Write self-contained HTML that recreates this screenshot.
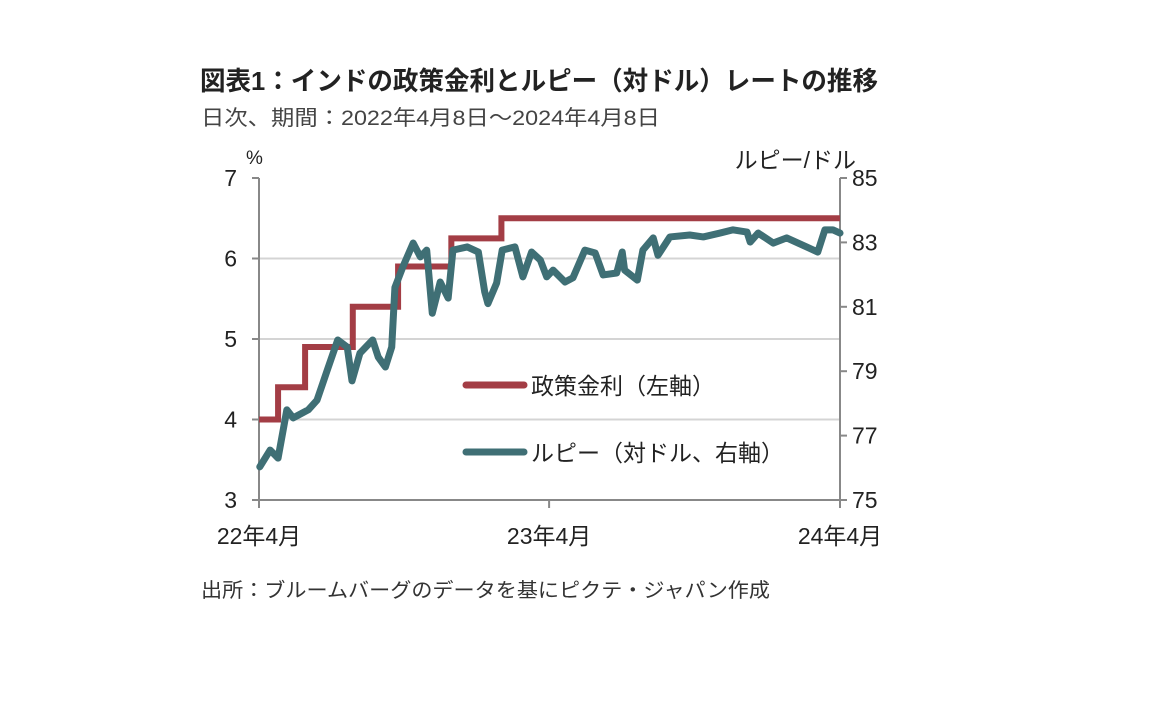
<!DOCTYPE html>
<html><head><meta charset="utf-8"><style>
body{margin:0;width:1152px;height:720px;background:#fff;overflow:hidden;font-family:"Liberation Sans","Noto Sans CJK JP",sans-serif}
svg text{font-family:"Liberation Sans","Noto Sans CJK JP",sans-serif}
</style></head><body>
<svg width="1152" height="720">
<text x="200" y="90" font-size="26" font-weight="bold" fill="#222" textLength="678" lengthAdjust="spacingAndGlyphs">図表1：インドの政策金利とルピー（対ドル）レートの推移</text>
<text x="201" y="125" font-size="21" fill="#444" textLength="459" lengthAdjust="spacingAndGlyphs">日次、期間：2022年4月8日～2024年4月8日</text>
<g id="grid"></g>
<g id="axes"></g>
<g id="series"></g>
<g>
<line x1="466" y1="385" x2="524" y2="385" stroke="#a33d45" stroke-width="7" stroke-linecap="round"/>
<text x="531" y="394" font-size="23" fill="#222">政策金利（左軸）</text>
<line x1="466" y1="452" x2="524" y2="452" stroke="#3f6f75" stroke-width="7" stroke-linecap="round"/>
<text x="531" y="461" font-size="23" fill="#222">ルピー（対ドル、右軸）</text>
</g>
<text x="201" y="597" font-size="20" fill="#333" textLength="569" lengthAdjust="spacingAndGlyphs">出所：ブルームバーグのデータを基にピクテ・ジャパン作成</text>
</svg>
<script>
const xTickLabels=["22年4月","23年4月","24年4月"];
const xTickDays=[0,365,731];
const leftTicks=[3,4,5,6,7];
const rightTicks=[75,77,79,81,83,85];
const rateDays=[0,24,58,118,175,242,305,731];
const rateValues=[4.0,4.4,4.9,5.4,5.9,6.25,6.5,6.5];
const rupeeDays=[1,14,24,35,43,62,73,86,99,111,117,127,143,150,159,167,171,181,194,203,211,218,228,238,244,262,276,284,288,299,306,322,332,343,354,362,370,385,395,410,423,433,450,457,460,476,483,496,502,517,542,559,580,596,614,618,628,647,664,689,703,712,722,731];
const rupeeValues=[76.03,76.55,76.3,77.8,77.55,77.8,78.1,79.04,79.97,79.75,78.7,79.56,79.97,79.44,79.13,79.75,81.6,82.24,82.98,82.55,82.76,80.8,81.77,81.27,82.76,82.86,82.7,81.46,81.1,81.74,82.76,82.86,81.93,82.7,82.45,81.93,82.14,81.77,81.9,82.76,82.67,81.99,82.05,82.7,82.14,81.83,82.76,83.14,82.6,83.17,83.23,83.17,83.29,83.39,83.32,83.01,83.29,82.98,83.14,82.86,82.7,83.39,83.39,83.29];
const X0=259,X1=840,Y0=178,Y1=500;
const xs=d=>X0+d*(X1-X0)/731;
const yl=v=>Y1-(v-3)*(Y1-Y0)/4;
const yr=v=>Y1-(v-75)*(Y1-Y0)/10;
const NS="http://www.w3.org/2000/svg";
function mk(t,a,p){const e=document.createElementNS(NS,t);for(const k in a)e.setAttribute(k,a[k]);p.appendChild(e);return e;}
const grid=document.getElementById('grid'),axes=document.getElementById('axes'),ser=document.getElementById('series');
leftTicks.forEach(v=>{
 if(v>3&&v<7){const g=mk('line',{x1:X0,x2:X1,y1:yl(v),y2:yl(v),stroke:'#d4d4d4','stroke-width':2},grid);
 
 }
 const tk=mk('line',{x1:X0-7,x2:X0,y1:yl(v),y2:yl(v),stroke:'#888','stroke-width':2},axes);
 
 
 const t=mk('text',{x:X0-22,y:yl(v)+8,'font-size':23,'text-anchor':'end',fill:'#222'},axes);t.textContent=v;
 
 
});
rightTicks.forEach(v=>{
 const tk=mk('line',{x1:X1,x2:X1+7,y1:yr(v),y2:yr(v),stroke:'#888','stroke-width':2},axes);
 
 
 const t=mk('text',{x:X1+12,y:yr(v)+8,'font-size':23,fill:'#222'},axes);t.textContent=v;
 
 
});
xTickDays.forEach((d,i)=>{
 const tk=mk('line',{x1:xs(d),x2:xs(d),y1:Y1,y2:Y1+8,stroke:'#888','stroke-width':2},axes);
 
 
 const t=mk('text',{x:xs(d),y:544,'font-size':23,'text-anchor':'middle',fill:'#222'},axes);t.textContent=xTickLabels[i];
 
 
});
[[X0,Y0,X0,Y1],[X1,Y0,X1,Y1],[X0,Y1,X1,Y1]].forEach(c=>{
 const l=mk('line',{x1:c[0],y1:c[1],x2:c[2],y2:c[3],stroke:'#888','stroke-width':2},axes);
 
 
});
const u1=mk('text',{x:246,y:164,'font-size':19,fill:'#222'},axes);u1.textContent='%';


const u2=mk('text',{x:856,y:168,'font-size':23,'text-anchor':'end',fill:'#222'},axes);u2.textContent='ルピー/ドル';


let d='';
for(let i=0;i<rateDays.length;i++){
 if(i==0)d+='M'+xs(rateDays[0])+','+yl(rateValues[0]);
 else d+=' H'+xs(rateDays[i])+' V'+yl(rateValues[i]);
}
const rp=mk('path',{d:d,fill:'none',stroke:'#a33d45','stroke-width':6},ser);


const rup=mk('polyline',{points:rupeeDays.map((x,i)=>xs(x)+','+yr(rupeeValues[i])).join(' '),fill:'none',stroke:'#3f6f75','stroke-width':7,'stroke-linejoin':'round','stroke-linecap':'round'},ser);


</script>
</body></html>
